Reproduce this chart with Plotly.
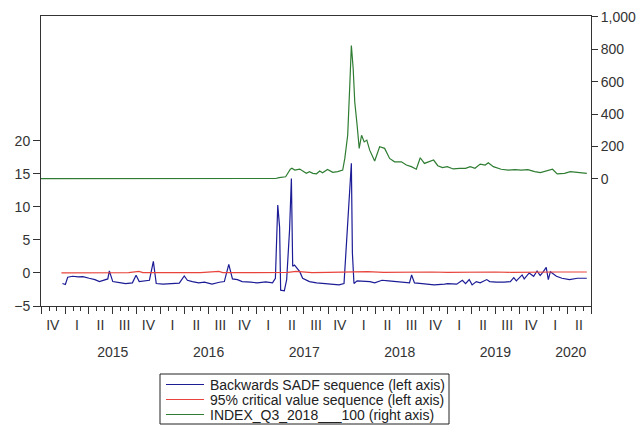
import plotly.graph_objects as go

# ---------------- data ----------------
sadf_dates = ["2014-12-22","2015-01-02","2015-01-11","2015-01-30","2015-02-20","2015-03-10","2015-04-03",
    "2015-04-25","2015-05-12","2015-05-31","2015-06-13","2015-06-19","2015-07-02","2015-07-28","2015-08-20",
    "2015-09-15","2015-09-29","2015-10-11","2015-11-01","2015-11-19","2015-12-04","2015-12-15","2016-01-10",
    "2016-02-04","2016-03-12","2016-03-31","2016-04-12","2016-05-01","2016-05-25","2016-06-16","2016-07-15",
    "2016-08-12","2016-08-31","2016-09-17","2016-10-01","2016-10-20","2016-11-07","2016-12-10","2017-01-04",
    "2017-02-05","2017-03-03","2017-03-14","2017-03-23","2017-03-30","2017-04-03","2017-04-17","2017-04-26",
    "2017-05-07","2017-05-14","2017-05-19","2017-05-26","2017-06-15","2017-06-26","2017-07-22","2017-08-18",
    "2017-09-20","2017-10-19","2017-11-12","2017-12-01","2017-12-15","2017-12-29","2018-01-02","2018-01-08",
    "2018-01-20","2018-02-15","2018-03-10","2018-03-28","2018-04-25","2018-05-20","2018-07-05","2018-08-08",
    "2018-08-16","2018-08-27","2018-09-25","2018-11-10","2018-12-20","2019-01-01","2019-02-04","2019-02-26",
    "2019-03-10","2019-03-24","2019-04-04","2019-04-20","2019-05-05","2019-05-30","2019-06-10","2019-07-05",
    "2019-08-05","2019-08-28","2019-09-10","2019-09-20","2019-10-12","2019-10-20","2019-11-08","2019-11-25",
    "2019-12-08","2019-12-20","2020-01-01","2020-01-12","2020-01-20","2020-01-28","2020-02-20","2020-03-12",
    "2020-04-10","2020-05-10","2020-06-15"]
sadf_values = [-1.6,-1.75,-0.65,-0.5,-0.6,-0.55,-0.8,
    -1.0,-1.3,-1.05,-0.9,0.3,-1.3,-1.45,-1.6,
    -1.5,-0.35,-1.3,-1.2,-1.1,1.75,-1.6,-1.7,
    -1.6,-1.55,-0.45,-1.1,-1.3,-1.5,-1.4,-1.7,
    -1.4,-1.3,1.3,-0.9,-1.0,-1.3,-1.4,-1.5,
    -1.35,-1.5,-0.8,10.3,6.9,-2.6,-2.7,-1.0,
    6.5,14.3,1.0,1.2,0.2,-0.8,-1.3,-1.5,
    -1.6,-1.7,-1.8,-1.6,8.0,16.6,3.0,-1.6,
    -1.2,-1.3,-1.3,-1.5,-1.1,-1.2,-1.4,-1.5,
    -0.3,-1.5,-1.6,-1.8,-1.7,-1.6,-1.7,-1.1,
    -1.6,-1.0,-1.8,-1.3,-1.5,-1.0,-1.3,-1.4,
    -1.4,-1.3,-0.7,-1.2,-0.3,-0.9,0.0,-0.5,
    0.3,-0.4,0.2,0.85,-1.0,0.2,-0.5,-0.8,
    -1.0,-0.8,-0.8]

cv_dates = ["2014-12-18","2015-03-01","2015-06-01","2015-09-01","2015-10-10","2015-10-25","2015-12-01",
    "2016-03-01","2016-06-01","2016-08-10","2016-08-25","2016-11-01","2017-02-01","2017-05-01","2017-06-01",
    "2017-08-01","2017-10-01","2017-12-01","2018-02-01","2018-03-01","2018-05-01","2018-07-01","2018-09-01",
    "2018-11-01","2019-01-01","2019-03-01","2019-05-01","2019-07-01","2019-09-01","2019-11-01","2020-01-01",
    "2020-03-01","2020-06-15"]
cv_values = [0.0,0.0,0.0,0.05,0.25,0.05,0.05,
    0.05,0.05,0.25,0.05,0.05,0.05,0.1,0.25,
    0.05,0.1,0.15,0.1,0.2,0.1,0.15,0.1,
    0.15,0.1,0.15,0.1,0.15,0.1,0.15,0.2,
    0.15,0.15]

idx_dates = ["2014-10-01","2015-06-01","2016-01-01","2016-09-01","2017-03-15","2017-03-28","2017-04-10",
    "2017-04-22","2017-05-10","2017-05-16","2017-05-27","2017-06-15","2017-07-10","2017-07-22","2017-08-04",
    "2017-08-18","2017-08-30","2017-09-10","2017-09-29","2017-10-19","2017-11-07","2017-11-26","2017-12-04",
    "2017-12-15","2017-12-23","2017-12-29","2018-01-05","2018-01-11","2018-01-20","2018-01-28","2018-02-06",
    "2018-02-16","2018-02-26","2018-03-09","2018-03-28","2018-04-16","2018-05-05","2018-05-24","2018-06-12",
    "2018-07-08","2018-07-27","2018-08-15","2018-09-03","2018-09-18","2018-10-04","2018-10-23","2018-11-08",
    "2018-11-24","2018-12-12","2018-12-30","2019-01-22","2019-02-15","2019-03-10","2019-03-28","2019-04-15",
    "2019-05-05","2019-05-24","2019-06-05","2019-06-24","2019-07-24","2019-08-20","2019-09-15","2019-10-08",
    "2019-11-03","2019-11-29","2019-12-21","2020-01-17","2020-02-05","2020-02-23","2020-03-22","2020-04-13",
    "2020-05-09","2020-06-15"]
idx_values = [2,2,2,2,3,8,12,
    14,60,66,55,61,35,45,35,
    32,49,38,59,41,45,55,127,
    270,578,824,680,475,332,189,270,
    229,240,178,111,199,189,127,106,
    106,86,76,60,131,96,106,117,
    82,70,76,62,66,66,76,66,
    92,86,100,76,60,55,58,55,
    58,45,39,51,60,31,35,45,
    39,35]

quarter_ticks = ["2014-11-15","2015-02-15","2015-05-16","2015-08-16","2015-11-15","2016-02-15","2016-05-16",
    "2016-08-16","2016-11-15","2017-02-14","2017-05-16","2017-08-16","2017-11-15","2018-02-14","2018-05-16",
    "2018-08-16","2018-11-15","2019-02-14","2019-05-16","2019-08-16","2019-11-15","2020-02-15","2020-05-16"]
quarter_labels = ["IV","I","II","III","IV","I","II","III","IV","I","II","III","IV","I","II",
    "III","IV","I","II","III","IV","I","II"]
year_ticks = ["2015-07-02","2016-07-02","2017-07-02","2018-07-02","2019-07-02","2020-04-15"]
year_labels = ["2015","2016","2017","2018","2019","2020"]
left_ticks = [-5, 0, 5, 10, 15, 20]
right_ticks = [0, 200, 400, 600, 800, 1000]

series_names = ["Backwards SADF sequence (left axis)",
                "95% critical value sequence (left axis)",
                "INDEX_Q3_2018___100 (right axis)"]
series_colors = ["#1c1c96", "#e8443c", "#2e7d32"]

FONT = "Arial, Liberation Sans, sans-serif"
AXC = "#333333"
XR = ["2014-10-01", "2020-07-01"]

# plot-area pixel frame (for converting the hand-made legend position to paper units)
PL, PR, PT, PB = 41, 591, 16, 306
def px(xp):
    return (xp - PL) / (PR - PL)
def py(yp):
    return (PB - yp) / (PB - PT)

fig = go.Figure()
fig.add_trace(go.Scatter(x=sadf_dates, y=sadf_values, mode="lines", name=series_names[0],
                         line=dict(color=series_colors[0], width=1.2)))
fig.add_trace(go.Scatter(x=cv_dates, y=cv_values, mode="lines", name=series_names[1],
                         line=dict(color=series_colors[1], width=1.2)))
fig.add_trace(go.Scatter(x=idx_dates, y=idx_values, mode="lines", name=series_names[2],
                         line=dict(color=series_colors[2], width=1.2), yaxis="y2"))
# empty carriers so the label-only axes are drawn
fig.add_trace(go.Scatter(x=quarter_ticks, y=[None] * len(quarter_ticks), xaxis="x2", mode="lines",
                         showlegend=False, hoverinfo="skip"))
fig.add_trace(go.Scatter(x=year_ticks, y=[None] * len(year_ticks), xaxis="x3", mode="lines",
                         showlegend=False, hoverinfo="skip"))

# hand-made legend (EViews style: tight line spacing)
shapes = [dict(type="rect", xref="paper", yref="paper", x0=px(160), x1=px(449), y0=py(374), y1=py(424),
               line=dict(color="#222222", width=1), fillcolor="white", layer="above")]
annotations = []
for i, (nm, col) in enumerate(zip(series_names, series_colors)):
    yy = 384.5 + 15 * i
    shapes.append(dict(type="line", xref="paper", yref="paper", x0=px(166), x1=px(204), y0=py(yy), y1=py(yy),
                       line=dict(color=col, width=1.2), layer="above"))
    annotations.append(dict(xref="paper", yref="paper", x=px(208), y=py(yy), xanchor="left", yanchor="middle",
                            text=nm, showarrow=False, font=dict(size=14, color="#222222")))

fig.update_layout(
    width=640, height=430,
    margin=dict(l=41, r=49, t=16, b=124, autoexpand=False),
    paper_bgcolor="white", plot_bgcolor="white",
    font=dict(family=FONT, size=14, color=AXC),
    showlegend=False,
    shapes=shapes, annotations=annotations,
    xaxis=dict(type="date", range=XR, showgrid=False, zeroline=False,
               showline=True, linecolor=AXC, linewidth=1, mirror=True,
               tick0="2014-10-01", dtick="M3", ticks="outside", ticklen=7, tickcolor=AXC,
               showticklabels=False,
               minor=dict(dtick="M1", ticks="outside", ticklen=4, tickcolor=AXC, showgrid=False)),
    xaxis2=dict(type="date", range=XR, overlaying="x", anchor="y", side="bottom",
                showgrid=False, zeroline=False, showline=False, ticks="",
                tickmode="array", tickvals=quarter_ticks, ticktext=quarter_labels,
                tickfont=dict(size=14), ticklabelstandoff=9),
    xaxis3=dict(type="date", range=XR, overlaying="x", anchor="y", side="bottom",
                showgrid=False, zeroline=False, showline=False, ticks="",
                tickmode="array", tickvals=year_ticks, ticktext=year_labels,
                tickfont=dict(size=14), ticklabelstandoff=36),
    yaxis=dict(range=[-5, 38.9], showgrid=False, zeroline=False,
               showline=True, linecolor=AXC, linewidth=1, mirror=True,
               tickmode="array", tickvals=left_ticks, ticks="outside", ticklen=7, tickcolor=AXC),
    yaxis2=dict(range=[-784, 1006], overlaying="y", side="right", anchor="x",
                showgrid=False, zeroline=False, showline=True, linecolor=AXC, linewidth=1,
                tickmode="array", tickvals=right_ticks, tickformat=",d",
                ticks="outside", ticklen=6, tickcolor=AXC),
)

fig.write_html("out.html")
